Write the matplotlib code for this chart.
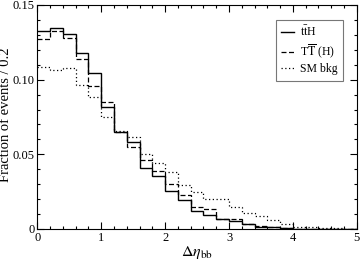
import numpy as np
import matplotlib.pyplot as plt
from matplotlib.ticker import MultipleLocator

plt.rcParams['font.family'] = ['Liberation Serif', 'DejaVu Serif']
plt.rcParams['mathtext.fontset'] = 'stix'

# bin edges for delta eta_bb, 0.2 wide
edges = np.linspace(0, 5, 26)

tth = [0.1326, 0.1344, 0.1308, 0.1180, 0.1047, 0.0815, 0.0648, 0.0585, 0.0410, 0.0355,
       0.0252, 0.0192, 0.0123, 0.0092, 0.0065, 0.0054, 0.0031, 0.0016, 0.0011, 0.0005,
       0.0002, 0.0001, 0.0001, 0.0000, 0.0000]
tth_partner = [0.1270, 0.1326, 0.1280, 0.1139, 0.0956, 0.0849, 0.0650, 0.0551, 0.0460, 0.0388,
               0.0301, 0.0225, 0.0145, 0.0132, 0.0069, 0.0065, 0.0031, 0.0020, 0.0013, 0.0005,
               0.0003, 0.0002, 0.0001, 0.0001, 0.0000]
sm_bkg = [0.1087, 0.1065, 0.1076, 0.0967, 0.0882, 0.0752, 0.0656, 0.0614, 0.0502, 0.0444,
          0.0384, 0.0295, 0.0246, 0.0201, 0.0203, 0.0150, 0.0105, 0.0089, 0.0060, 0.0031,
          0.0016, 0.0011, 0.0009, 0.0005, 0.0003]

fig = plt.figure(figsize=(3.63, 2.62), dpi=100)
ax = fig.add_axes([0.103, 0.126, 0.880, 0.855])

ax.stairs(tth, edges, baseline=None, color='black', lw=1.0, ls='-', label=r't$\bar{\rm t}$H')
ax.stairs(tth_partner, edges, baseline=None, color='black', lw=0.9, ls=(0, (4, 2)),
          label=r'T$\overline{\rm T}$ (H)')
ax.stairs(sm_bkg, edges, baseline=None, color='black', lw=0.9, ls=(0, (1, 2)), label='SM bkg')

ax.set_xlim(0, 5)
ax.set_ylim(0, 0.15)
ax.set_xticks([0, 1, 2, 3, 4, 5])
ax.set_yticks([0, 0.05, 0.10, 0.15])
ax.set_yticklabels(['0', '0.05', '0.10', '0.15'])
ax.xaxis.set_minor_locator(MultipleLocator(0.2))
ax.yaxis.set_minor_locator(MultipleLocator(0.01))
ax.tick_params(which='both', direction='in', top=True, right=True, labelsize=9, width=0.8, pad=2)
ax.tick_params(which='major', length=5)
ax.tick_params(which='minor', length=2.5)
for s in ax.spines.values():
    s.set_linewidth(0.8)

ax.set_xlabel(r'$\Delta\eta_{\rm bb}$', fontsize=11.5, labelpad=0)
ax.set_ylabel('Fraction of events / 0.2', fontsize=10.5)
ax.yaxis.set_label_coords(-0.078, 0.51)

leg = ax.legend(loc='upper right', fontsize=8.5, fancybox=False, edgecolor='#555555',
                handlelength=1.07, handletextpad=0.5, borderpad=0.45, labelspacing=0.25,
                borderaxespad=0, bbox_to_anchor=(0.956, 0.934))
leg.get_frame().set_linewidth(0.8)

fig.savefig('out.png', dpi=100)
